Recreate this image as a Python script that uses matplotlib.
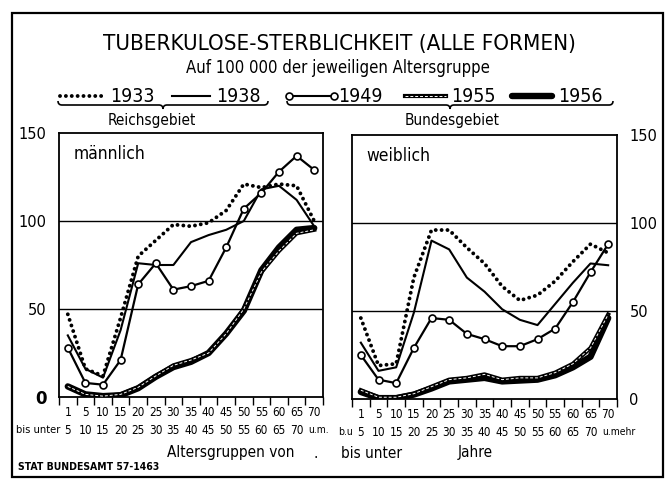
import matplotlib
matplotlib.use('Agg')
import matplotlib.pyplot as plt
from matplotlib.path import Path
from matplotlib.patches import PathPatch, Rectangle
from matplotlib.transforms import blended_transform_factory
import numpy as np

plt.rcParams['font.family'] = ['DejaVu Sans']
plt.rcParams['font.stretch'] = 'condensed'

# Altersgruppen (15 Gruppen)
lower = ['1', '5', '10', '15', '20', '25', '30', '35', '40', '45', '50', '55', '60', '65', '70']
upper_m = ['5', '10', '15', '20', '25', '30', '35', '40', '45', '50', '55', '60', '65', '70', 'u.m.']
upper_w = ['5', '10', '15', '20', '25', '30', '35', '40', '45', '50', '55', '60', '65', '70', 'u.mehr']

# Sterbefaelle auf 100 000 -- männlich
m1933 = [47, 16, 12, 45, 80, 89, 98, 97, 99, 106, 121, 119, 121, 120, 100]
m1938 = [35, 16, 11, 38, 76, 75, 75, 88, 92, 95, 100, 118, 120, 112, 97]
m1949 = [28, 8, 7, 21, 64, 76, 61, 63, 66, 85, 107, 116, 128, 137, 129]
m1955 = [6, 1.5, 0.5, 1.5, 5.5, 12, 18, 21, 25, 36, 50, 71, 83, 93, 95]
m1956 = [6, 1.5, 0.5, 1, 5, 11.5, 17, 20, 25, 36, 49, 72, 85, 95, 96]

# weiblich
f1933 = [46, 19, 20, 69, 96, 96, 86, 77, 64, 56, 59, 67, 78, 88, 83]
f1938 = [32, 16, 18, 49, 90, 85, 69, 61, 51, 45, 42, 54, 66, 77, 76]
f1949 = [25, 11, 9, 29, 46, 45, 37, 34, 30, 30, 34, 40, 55, 72, 88]
f1955 = [5, 1, 1, 3, 7, 11, 12, 14, 11, 12, 12, 15, 20, 29, 48]
f1956 = [4, 0.5, 0.5, 2.5, 6, 10, 11, 12, 10, 10.5, 11, 13.5, 18, 24, 46]

W, H = 669, 484
fig = plt.figure(figsize=(W / 100, H / 100), dpi=100)

def box(x0, y0, x1, y1):
    return [x0 / W, 1 - y1 / H, (x1 - x0) / W, (y1 - y0) / H]

# overlay in pixel coords for frame, legend and braces
ov = fig.add_axes([0, 0, 1, 1])
ov.set_xlim(0, W)
ov.set_ylim(H, 0)
ov.axis('off')
ov.add_patch(Rectangle((12, 13), 651, 464, fill=False, lw=1.6, color='black'))

dots = dict(color='black', lw=2.8, ls=(0, (0.01, 1.5)), dash_capstyle='round')
thin = dict(color='black', lw=1.5)
circ = dict(color='black', lw=1.6, marker='o', ms=5, mfc='white', mew=1.2)
thick = dict(color='black', lw=4.6, solid_capstyle='round')
dbl = dict(color='black', lw=3.0)
dbl_in = dict(color='white', lw=0.7, ls=(0, (3, 2)))


def draw(ax, x, a, b, c, d, e):
    ax.plot(x, e, **thick, zorder=3)
    ax.plot(x, d, **dbl, zorder=4)
    ax.plot(x, d, **dbl_in, zorder=5)
    ax.plot(x, b, **thin, zorder=6)
    ax.plot(x, a, **dots, zorder=7)
    ax.plot(x, c, **circ, zorder=8)


def panel(rect, data, name, ups, side):
    ax = fig.add_axes(rect)
    x = np.arange(15) + 0.5
    draw(ax, x, *data)
    ax.set_xlim(0, 15)
    ax.set_ylim(0, 150)
    for s in ax.spines.values():
        s.set_linewidth(1.3)
    ax.axhline(50, color='black', lw=1.0, zorder=1)
    ax.axhline(100, color='black', lw=1.0, zorder=1)
    ax.set_xticks(np.arange(16))
    ax.set_xticklabels([])
    ax.tick_params(axis='x', direction='out', length=6, width=1.0)
    ax.set_yticks([0, 50, 100, 150])
    ax.set_yticklabels(['0', '50', '100', '150'], fontsize=10.5, fontstretch='normal')
    ax.get_yticklabels()[0].set_fontweight('bold')
    ax.get_yticklabels()[0].set_fontsize(12)
    if side == 'right':
        ax.yaxis.tick_right()
    ax.tick_params(axis='y', length=0, pad=9)
    tr = blended_transform_factory(ax.transData, ax.transAxes)
    for i in range(15):
        ax.text(i + 0.5, -0.06, lower[i], transform=tr, ha='center', va='center', fontsize=8.5)
        if i < 14:
            ax.text(i + 0.5, -0.125, ups[i], transform=tr, ha='center', va='center', fontsize=8.5)
    ax.text(14.15, -0.125, ups[14], transform=tr, ha='left', va='center', fontsize=7.5)
    ax.text(0.055, 0.92, name, transform=ax.transAxes, ha='left', va='center', fontsize=12.5)
    return ax, tr


axm, trm = panel(box(59, 133, 323, 397), (m1933, m1938, m1949, m1955, m1956), 'männlich', upper_m, 'left')
axw, trw = panel(box(352, 135, 617, 399), (f1933, f1938, f1949, f1955, f1956), 'weiblich', upper_w, 'right')
axm.text(0.05, -0.125, 'bis unter', transform=trm, ha='right', va='center', fontsize=8)
axw.text(0.05, -0.125, 'b.u', transform=trw, ha='right', va='center', fontsize=7.5)

# Titles
ov.text(339, 44, 'TUBERKULOSE-STERBLICHKEIT (ALLE FORMEN)', ha='center', va='center', fontsize=16)
ov.text(338, 68, 'Auf 100 000 der jeweiligen Altersgruppe', ha='center', va='center', fontsize=12)

# Legend row
ly = 96
ov.plot([60, 104], [ly, ly], **dots)
ov.text(110, ly, '1933', ha='left', va='center', fontsize=14)
ov.plot([172, 210], [ly, ly], **thin)
ov.text(216, ly, '1938', ha='left', va='center', fontsize=14)
ov.plot([289, 334], [ly, ly], color='black', lw=1.5)
ov.plot([289, 334], [ly, ly], ls='none', marker='o', ms=5, mfc='white', mec='black', mew=1.2)
ov.text(338, ly, '1949', ha='left', va='center', fontsize=14)
ov.plot([405, 446], [ly, ly], **dbl)
ov.plot([405, 446], [ly, ly], **dbl_in)
ov.text(451, ly, '1955', ha='left', va='center', fontsize=14)
ov.plot([512, 552], [ly, ly], **thick)
ov.text(558, ly, '1956', ha='left', va='center', fontsize=14)


def brace(x0, x1, y):
    xm = (x0 + x1) / 2
    verts = [(x0, y - 4), (x0, y), (x0 + 4, y), (xm - 4, y), (xm, y), (xm, y + 4),
             (xm, y), (xm + 4, y), (x1 - 4, y), (x1, y), (x1, y - 4)]
    codes = [Path.MOVETO, Path.CURVE3, Path.CURVE3, Path.LINETO, Path.CURVE3, Path.CURVE3,
             Path.CURVE3, Path.CURVE3, Path.LINETO, Path.CURVE3, Path.CURVE3]
    ov.add_patch(PathPatch(Path(verts, codes), fill=False, lw=1.2, color='black'))


brace(58, 268, 105)
brace(287, 613, 105)
ov.text(152, 120, 'Reichsgebiet', ha='center', va='center', fontsize=11)
ov.text(452, 120, 'Bundesgebiet', ha='center', va='center', fontsize=11)

# Bottom texts
ov.text(231, 453, 'Altersgruppen von', ha='center', va='center', fontsize=11)
ov.text(316, 453, '.', ha='center', va='center', fontsize=11)
ov.text(372, 453, 'bis unter', ha='center', va='center', fontsize=11)
ov.text(475, 453, 'Jahre', ha='center', va='center', fontsize=11)
ov.text(18, 467, 'STAT BUNDESAMT 57-1463', ha='left', va='center', fontsize=7.5, fontweight='bold')

fig.savefig('out.png', dpi=100)
